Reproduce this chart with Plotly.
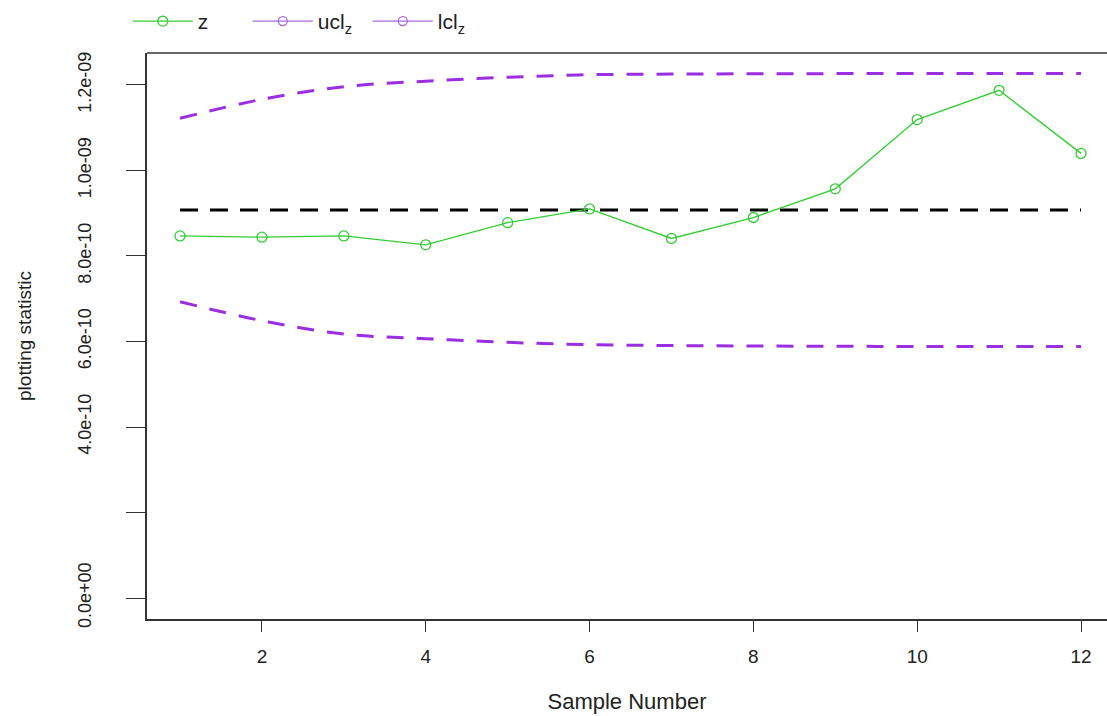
import plotly.graph_objects as go

# ---- data ----
sample = list(range(1, 13))
z_values = [8.47e-10, 8.44e-10, 8.47e-10, 8.26e-10, 8.78e-10, 9.10e-10,
            8.41e-10, 8.90e-10, 9.57e-10, 1.119e-09, 1.1875e-09, 1.040e-09]
ucl_values = [1.122e-09, 1.1665e-09, 1.196e-09, 1.209e-09, 1.218e-09, 1.224e-09,
              1.2255e-09, 1.2262e-09, 1.2266e-09, 1.2268e-09, 1.2269e-09, 1.227e-09]
lcl_values = [6.93e-10, 6.486e-10, 6.175e-10, 6.066e-10, 5.98e-10, 5.925e-10,
              5.905e-10, 5.895e-10, 5.888e-10, 5.884e-10, 5.882e-10, 5.88e-10]
center_x = [1, 12]
center_values = [9.075e-10, 9.075e-10]

y_tick_vals = [0, 2e-10, 4e-10, 6e-10, 8e-10, 1e-09, 1.2e-09]
y_tick_text = ["0.0e+00", "", "4.0e-10", "6.0e-10", "8.0e-10", "1.0e-09", "1.2e-09"]
x_tick_vals = [2, 4, 6, 8, 10, 12]

GREEN = "#33cc33"
PURPLE = "#9a2ee0"
PURPLE_LEG = "#a868d8"
FONT = "Liberation Sans, Arial, sans-serif"

fig = go.Figure()

fig.add_trace(go.Scatter(
    x=sample, y=ucl_values, mode="lines", line=dict(color=PURPLE, width=3, dash="17px,13px", shape="spline"),
    showlegend=False, hoverinfo="skip"))
fig.add_trace(go.Scatter(
    x=sample, y=lcl_values, mode="lines", line=dict(color=PURPLE, width=3, dash="17px,13px", shape="spline"),
    showlegend=False, hoverinfo="skip"))
fig.add_trace(go.Scatter(
    x=center_x, y=center_values, mode="lines", line=dict(color="black", width=3, dash="18px,12px"),
    showlegend=False, hoverinfo="skip"))
fig.add_trace(go.Scatter(
    x=sample, y=z_values, mode="lines+markers", name="z",
    line=dict(color=GREEN, width=1.3),
    marker=dict(symbol="circle-open", size=10, color=GREEN, line=dict(width=1.3, color=GREEN))))
fig.add_trace(go.Scatter(
    x=[None], y=[None], mode="lines+markers", name="ucl<sub>z</sub>",
    line=dict(color=PURPLE_LEG, width=1.3),
    marker=dict(symbol="circle-open", size=9, color=PURPLE_LEG, line=dict(width=1.3, color=PURPLE_LEG))))
fig.add_trace(go.Scatter(
    x=[None], y=[None], mode="lines+markers", name="lcl<sub>z</sub>",
    line=dict(color=PURPLE_LEG, width=1.3),
    marker=dict(symbol="circle-open", size=9, color=PURPLE_LEG, line=dict(width=1.3, color=PURPLE_LEG))))

fig.update_layout(
    width=1107, height=716,
    margin=dict(l=147, r=0, t=53, b=97),
    paper_bgcolor="white", plot_bgcolor="white",
    font=dict(family=FONT, size=17, color="#222"),
    showlegend=True,
    legend=dict(orientation="h", x=-0.02, y=1.092, xanchor="left", yanchor="top",
                font=dict(size=21, color="#222"), entrywidth=45, entrywidthmode="pixels",
                bgcolor="rgba(0,0,0,0)", itemwidth=60),
    xaxis=dict(range=[0.597, 12.317], tickvals=x_tick_vals, ticks="outside", ticklen=11,
               tickcolor="#333", tickwidth=1.3, showline=True, linecolor="#333", linewidth=1.5,
               showgrid=False, zeroline=False, tickfont=dict(size=19), ticklabelstandoff=8,
               title=dict(text="Sample Number", font=dict(size=22), standoff=28)),
    yaxis=dict(range=[-4.91e-11, 1.2748e-09], tickvals=y_tick_vals, ticktext=y_tick_text,
               ticks="outside", ticklen=19, tickcolor="#333", tickwidth=1.3, tickangle=-90,
               showline=True, linecolor="#333", linewidth=1.5, showgrid=False, zeroline=False,
               tickfont=dict(size=18), ticklabelstandoff=28,
               title=dict(text="plotting statistic", font=dict(size=19), standoff=38)),
    shapes=[dict(type="line", xref="paper", yref="paper", x0=0, x1=1, y0=1, y1=1,
                 line=dict(color="#333", width=1.5))],
)

fig.write_html("out.html")
